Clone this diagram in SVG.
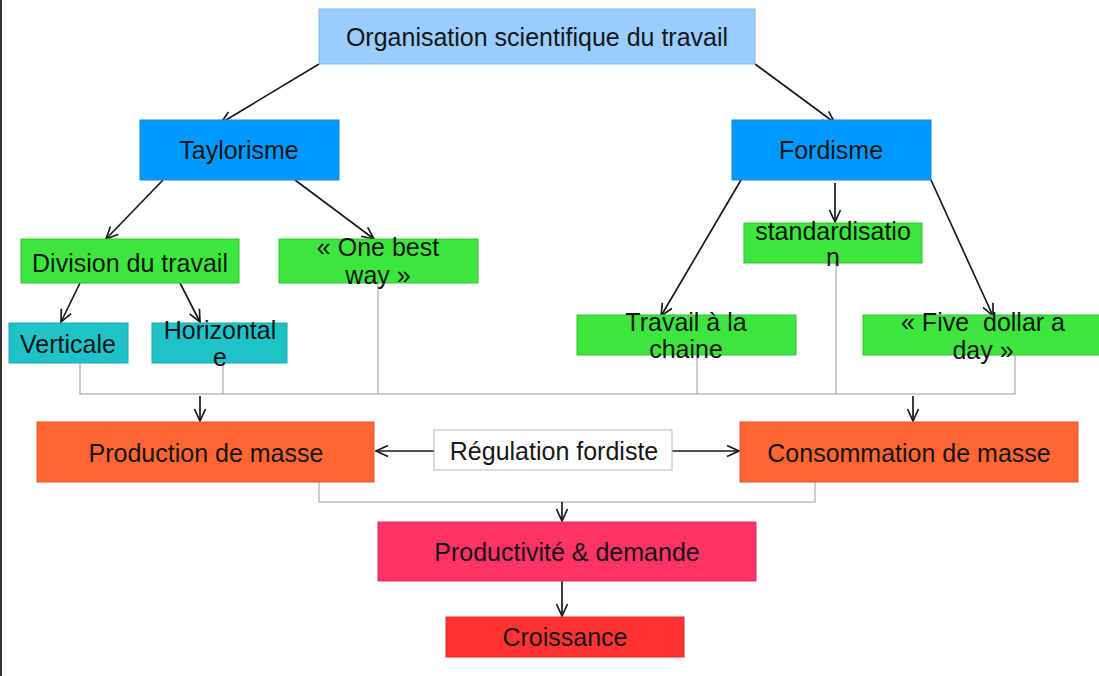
<svg xmlns="http://www.w3.org/2000/svg" width="1099" height="676" viewBox="0 0 1099 676">
<style>
text{font-family:"Liberation Sans",Arial,sans-serif;font-size:25px;fill:#161616;text-anchor:middle;white-space:pre}
.c{stroke:#1a1a1a;stroke-width:1.7;fill:none}
.g{stroke:#bdbdbd;stroke-width:1.5;fill:none}
.top{fill:#99ccff;stroke:#86b4e0}
.blue{fill:#0099ff;stroke:#1a86d8}
.green{fill:#3de63d;stroke:#35c035}
.teal{fill:#1fc2c8;stroke:#20a8ae}
.orange{fill:#ff6633;stroke:#e0582c}
.white{fill:#ffffff;stroke:#b8b8b8}
.pink{fill:#ff3366;stroke:#e02d5a}
.red{fill:#ff3333;stroke:#e02a2a}
</style>
<defs>
<marker id="a" viewBox="0 0 14 14" refX="13" refY="7" markerWidth="14" markerHeight="14" markerUnits="userSpaceOnUse" orient="auto">
<path d="M1,1.5 L13,7 L1,12.5" fill="none" stroke="#1a1a1a" stroke-width="1.7"/>
</marker>
</defs>
<rect x="0" y="0" width="1099" height="676" fill="#ffffff"/>
<rect x="0" y="0" width="2" height="676" fill="#333333"/>
<g id="connectors">
<line class="c" x1="319" y1="64" x2="221" y2="123" marker-end="url(#a)"/>
<line class="c" x1="755" y1="64" x2="835" y2="123" marker-end="url(#a)"/>
<line class="c" x1="163" y1="180" x2="106" y2="239" marker-end="url(#a)"/>
<line class="c" x1="295" y1="180" x2="374" y2="239" marker-end="url(#a)"/>
<line class="c" x1="80" y1="283" x2="61" y2="322" marker-end="url(#a)"/>
<line class="c" x1="180" y1="283" x2="200" y2="322" marker-end="url(#a)"/>
<line class="c" x1="741" y1="180" x2="661" y2="316" marker-end="url(#a)"/>
<line class="c" x1="835" y1="183" x2="835" y2="222" marker-end="url(#a)"/>
<line class="c" x1="931" y1="180" x2="993" y2="316" marker-end="url(#a)"/>
<polyline class="g" points="80,363 80,394 1015,394 1015,355"/>
<line class="g" x1="223" y1="363" x2="223" y2="394"/>
<line class="g" x1="378" y1="283" x2="378" y2="394"/>
<line class="g" x1="697" y1="355" x2="697" y2="394"/>
<line class="g" x1="836" y1="263" x2="836" y2="394"/>
<line class="c" x1="200" y1="396" x2="200" y2="421" marker-end="url(#a)"/>
<line class="c" x1="913" y1="396" x2="913" y2="421" marker-end="url(#a)"/>
<line class="c" x1="434" y1="451" x2="376" y2="451" marker-end="url(#a)"/>
<line class="c" x1="672" y1="451" x2="739" y2="451" marker-end="url(#a)"/>
<polyline class="g" points="319,482 319,502 815,502 815,482"/>
<line class="c" x1="562" y1="502" x2="562" y2="521" marker-end="url(#a)"/>
<line class="c" x1="562" y1="581" x2="562" y2="616" marker-end="url(#a)"/>
</g>
<g id="n-ost"><rect class="top" x="319" y="9" width="436" height="55"/><text x="537" y="46">Organisation scientifique du travail</text></g>
<g id="n-taylorisme"><rect class="blue" x="140" y="120" width="199" height="60"/><text x="239" y="159">Taylorisme</text></g>
<g id="n-fordisme"><rect class="blue" x="732" y="120" width="199" height="60"/><text x="831" y="159">Fordisme</text></g>
<g id="n-division"><rect class="green" x="21" y="239" width="218" height="44"/><text x="130" y="272">Division du travail</text></g>
<g id="n-onebest"><rect class="green" x="279" y="239" width="199" height="44"/><text x="378" y="256">« One best</text><text x="378" y="284">way »</text></g>
<g id="n-verticale"><rect class="teal" x="9" y="323" width="119" height="40"/><text x="68" y="353">Verticale</text></g>
<g id="n-horizontale"><rect class="teal" x="152" y="323" width="135" height="40"/><text x="220" y="339">Horizontal</text><text x="220" y="366">e</text></g>
<g id="n-standard"><rect class="green" x="744" y="223" width="178" height="40"/><text x="833" y="240">standardisatio</text><text x="833" y="266">n</text></g>
<g id="n-travail"><rect class="green" x="577" y="315" width="219" height="40"/><text x="686" y="331">Travail à la</text><text x="686" y="358">chaine</text></g>
<g id="n-five"><rect class="green" x="863" y="315" width="240" height="40"/><text x="983" y="331">« Five  dollar a</text><text x="983" y="359">day »</text></g>
<g id="n-production"><rect class="orange" x="37" y="422" width="337" height="60"/><text x="206" y="462">Production de masse</text></g>
<g id="n-regulation"><rect class="white" x="434" y="430" width="238" height="40"/><text x="554" y="460">Régulation fordiste</text></g>
<g id="n-consommation"><rect class="orange" x="740" y="422" width="338" height="60"/><text x="909" y="462">Consommation de masse</text></g>
<g id="n-productivite"><rect class="pink" x="378" y="522" width="378" height="59"/><text x="567" y="561">Productivité &amp; demande</text></g>
<g id="n-croissance"><rect class="red" x="446" y="617" width="238" height="40"/><text x="565" y="646">Croissance</text></g>
</svg>
